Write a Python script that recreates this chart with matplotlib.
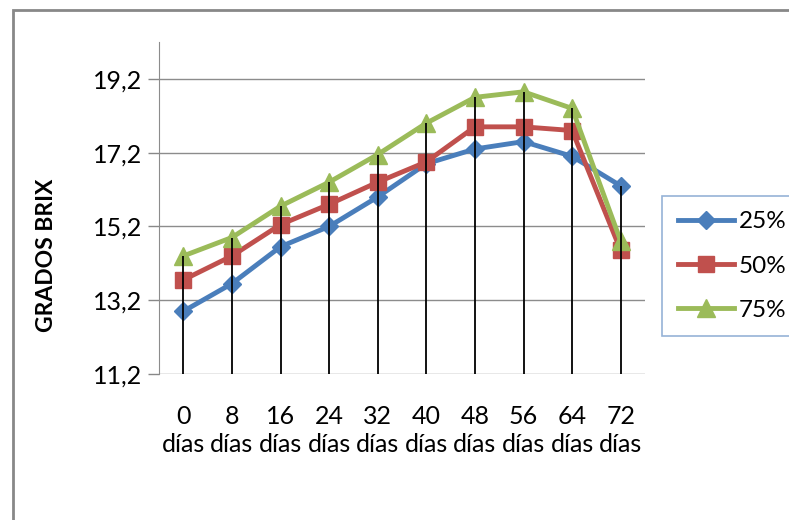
import matplotlib
matplotlib.use("Agg")
import matplotlib.pyplot as plt
from matplotlib.patches import Rectangle
import numpy as np

plt.rcParams['font.family'] = ['Lato', 'DejaVu Sans']

# Brix readings per storage day for each concentration
dias = ["0", "8", "16", "24", "32", "40", "48", "56", "64", "72"]
brix_25 = [12.9, 13.65, 14.65, 15.2, 16.0, 16.9, 17.3, 17.5, 17.1, 16.3]
brix_50 = [13.75, 14.4, 15.25, 15.8, 16.4, 16.95, 17.9, 17.9, 17.8, 14.55]
brix_75 = [14.4, 14.9, 15.75, 16.4, 17.15, 18.0, 18.7, 18.85, 18.4, 14.8]
series_names = ["25%", "50%", "75%"]
y_ticks = [11.2, 13.2, 15.2, 17.2, 19.2]

W, H = 789, 520
fig = plt.figure(figsize=(W / 100, H / 100), dpi=100)
ax = fig.add_axes([159 / W, 1 - 374 / H, (645 - 159) / W, (374 - 42) / H])

x = np.arange(len(dias))
ymin, ymax = 11.2, 20.2

ax.plot(x, brix_25, color="#4A7EBB", lw=3.5, marker="D", ms=9, label=series_names[0], zorder=3)
ax.plot(x, brix_50, color="#C0504D", lw=3.5, marker="s", ms=12, label=series_names[1], zorder=3)
ax.plot(x, brix_75, color="#9BBB59", lw=3.5, marker="^", ms=13, label=series_names[2], zorder=3)

# drop lines from the highest reading down to the axis
tops = np.max([brix_25, brix_50, brix_75], axis=0)
ax.vlines(x, ymin, tops, color="black", lw=1.3, zorder=4)

ax.set_xlim(-0.5, len(dias) - 0.5)
ax.set_ylim(ymin, ymax)
ax.set_yticks(y_ticks)
ax.set_yticklabels([f"{v:.1f}".replace(".", ",") for v in y_ticks], fontsize=18)
ax.set_xticks(x)
ax.set_xticklabels([f"{d}\ndías" for d in dias], fontsize=18, linespacing=1.3)
ax.tick_params(axis="x", length=0, pad=22)
ax.tick_params(axis="y", length=8, color="#888888", width=1, pad=4)
ax.grid(axis="y", color="#8C8C8C", lw=1)
ax.set_axisbelow(True)
for side in ["top", "right", "bottom"]:
    ax.spines[side].set_visible(False)
ax.spines["left"].set_color("#8C8C8C")

fig.text(47 / W, 1 - 255 / H, "GRADOS BRIX", rotation=90, fontsize=16.5,
         fontweight="bold", ha="center", va="center")

leg = fig.legend(loc="center left", bbox_to_anchor=(662 / W, 1 - 266 / H),
                 fontsize=17.5, frameon=True, fancybox=False, borderaxespad=0,
                 handlelength=2.3, labelspacing=0.95, handletextpad=0.2,
                 borderpad=0.65)
leg.get_frame().set_edgecolor("#7BA0CD")
leg.get_frame().set_linewidth(1.2)

# outer chart border
fig.patches.append(Rectangle((13 / W, -0.1), 1.2, 1 - 10 / H + 0.1, transform=fig.transFigure,
                             fill=False, edgecolor="#888888", lw=2))

fig.savefig("out.png", dpi=100)
